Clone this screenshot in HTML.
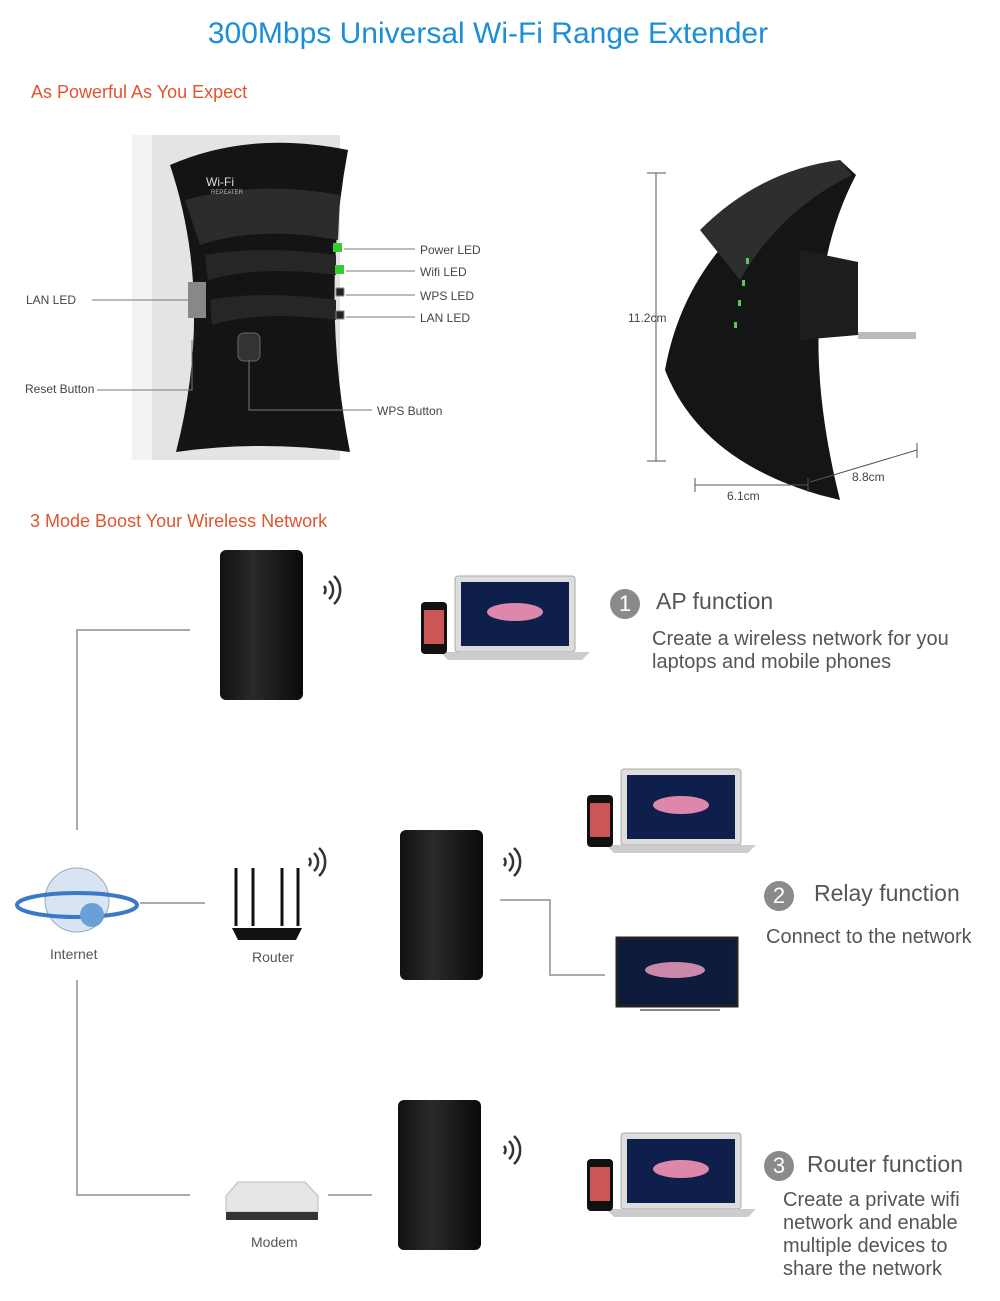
<!DOCTYPE html>
<html><head><meta charset="utf-8"><style>
body{margin:0;background:#fff;}
#c{position:relative;width:1000px;height:1301px;overflow:hidden;font-family:"Liberation Sans",sans-serif;}
.a{position:absolute;white-space:nowrap;}
.s{font-size:12px;color:#444;}
.g{color:#555;}
.dev{position:absolute;background:linear-gradient(90deg,#111,#2a2a2a 40%,#0a0a0a);border-radius:6px;}
.num{position:absolute;width:30px;height:30px;border-radius:50%;background:#8a8a8a;color:#fff;font-size:22px;text-align:center;line-height:30px;}
</style></head><body><div id="c">
<div class="a" style="left:0;width:976px;text-align:center;top:17px;font-size:30px;color:#1a8fd8;">300Mbps Universal Wi-Fi Range Extender</div>
<div class="a" style="left:31px;top:82px;font-size:18px;color:#e0542e;">As Powerful As You Expect</div>
<div class="a" style="left:30px;top:511px;font-size:18px;color:#e0542e;">3 Mode Boost Your Wireless Network</div>

<svg class="a" style="left:0;top:0" width="1000" height="1301">
<rect x="132" y="135" width="208" height="325" fill="#e6e3e3"/>
<rect x="132" y="135" width="20" height="325" fill="#f4f2f2"/>
<path d="M170 165 Q250 130 348 150 Q320 300 350 452 Q260 440 176 452 Q215 300 170 165Z" fill="#141414"/>
<path d="M185 200 Q260 180 340 195 L338 240 Q260 225 200 245Z" fill="#2c2c2c"/>
<path d="M205 255 Q260 245 336 255 L336 275 Q260 265 208 280Z" fill="#262626"/>
<path d="M210 300 Q260 290 336 300 L336 320 Q260 310 212 325Z" fill="#262626"/>
<rect x="188" y="282" width="18" height="36" fill="#888"/>
<rect x="333" y="243" width="9" height="9" fill="#3c3"/><rect x="335" y="265" width="9" height="9" fill="#3c3"/>
<rect x="336" y="288" width="8" height="8" fill="#222" stroke="#888"/><rect x="336" y="311" width="8" height="8" fill="#222" stroke="#888"/>
<rect x="238" y="333" width="22" height="28" rx="6" fill="#333" stroke="#666"/>
<text x="206" y="186" fill="#ddd" font-size="12" font-family="Liberation Sans">Wi-Fi</text>
<text x="211" y="194" fill="#bbb" font-size="6" font-family="Liberation Sans">REPEATER</text>
<g stroke="#777" fill="none">
<path d="M344 249H415M346 271H415M346 295H415M346 317H415"/>
<path d="M92 300H188M97 390H192V340"/>
<path d="M249 360V410H372"/>
</g>
<path d="M665 370 Q690 230 840 160 L856 175 Q790 300 840 500 L820 495 Q700 460 665 370Z" fill="#151515"/>
<path d="M700 230 Q760 170 840 160 L852 175 Q780 210 740 280Z" fill="#2e2e2e"/>
<path d="M800 250 L858 262 L858 335 L800 340Z" fill="#1e1e1e"/>
<rect x="858" y="332" width="58" height="7" fill="#bbb"/>
<g fill="#5c5"><rect x="746" y="258" width="3" height="6"/><rect x="742" y="280" width="3" height="6"/><rect x="738" y="300" width="3" height="6"/><rect x="734" y="322" width="3" height="6"/></g>
<g stroke="#555" fill="none">
<path d="M647 173H666M656 173V461M647 461H666"/>
<path d="M695 478V492M695 485H808M808 478V492"/>
<path d="M810 482L917 450M917 443V458"/>
</g>
<g stroke="#aaa" stroke-width="2" fill="none">
<path d="M190 630H77V830"/>
<path d="M77 980V1195H190"/>
<path d="M140 903H205"/>
<path d="M328 1195H372"/>
<path d="M500 900H550V975H605"/>
</g>
<g stroke="#333" stroke-width="2.5" fill="none">
<g transform="translate(320,590)"><path d="M4 -4a6 6 0 0 1 0 8M9 -9a12 12 0 0 1 0 18M14 -14a19 19 0 0 1 0 28"/></g>
<g transform="translate(305,862)"><path d="M4 -4a6 6 0 0 1 0 8M9 -9a12 12 0 0 1 0 18M14 -14a19 19 0 0 1 0 28"/></g>
<g transform="translate(500,862)"><path d="M4 -4a6 6 0 0 1 0 8M9 -9a12 12 0 0 1 0 18M14 -14a19 19 0 0 1 0 28"/></g>
<g transform="translate(500,1150)"><path d="M4 -4a6 6 0 0 1 0 8M9 -9a12 12 0 0 1 0 18M14 -14a19 19 0 0 1 0 28"/></g>
</g>
<g id="lap">
<rect x="455" y="576" width="120" height="76" rx="3" fill="#ddd" stroke="#aaa"/>
<rect x="461" y="582" width="108" height="64" fill="#0d1f4a"/>
<ellipse cx="515" cy="612" rx="28" ry="9" fill="#d8a"/>
<path d="M440 652H590L582 660H448Z" fill="#ccc"/>
<rect x="421" y="602" width="26" height="52" rx="4" fill="#111"/>
<rect x="424" y="610" width="20" height="34" fill="#c55"/>
</g>
<use href="#lap" x="166" y="193"/>
<use href="#lap" x="166" y="557"/>
<rect x="617" y="938" width="120" height="68" fill="#0d1b3c" stroke="#222" stroke-width="3"/>
<ellipse cx="675" cy="970" rx="30" ry="8" fill="#c8a"/>
<path d="M640 1010H720" stroke="#888" stroke-width="2"/>
<circle cx="77" cy="900" r="32" fill="#d8e4f2" stroke="#9ab"/>
<ellipse cx="77" cy="905" rx="60" ry="12" fill="none" stroke="#3a78c8" stroke-width="4"/>
<circle cx="92" cy="915" r="12" fill="#6a9fd8"/>
<path d="M232 928H302L296 940H238Z" fill="#111"/>
<g stroke="#111" stroke-width="3"><path d="M236 926V868M253 926V868M282 926V868M298 926V868"/></g>
<path d="M226 1196L238 1182H305L318 1196V1212H226Z" fill="#e6e6e6" stroke="#bbb"/>
<rect x="226" y="1212" width="92" height="8" fill="#333"/>
</svg>

<div class="dev" style="left:220px;top:550px;width:83px;height:150px;"></div>
<div class="dev" style="left:400px;top:830px;width:83px;height:150px;"></div>
<div class="dev" style="left:398px;top:1100px;width:83px;height:150px;"></div>

<div class="a s" style="left:26px;top:293px;">LAN LED</div>
<div class="a s" style="left:25px;top:382px;">Reset Button</div>
<div class="a s" style="left:420px;top:243px;">Power LED</div>
<div class="a s" style="left:420px;top:265px;">Wifi LED</div>
<div class="a s" style="left:420px;top:289px;">WPS LED</div>
<div class="a s" style="left:420px;top:311px;">LAN LED</div>
<div class="a s" style="left:377px;top:404px;">WPS Button</div>
<div class="a s" style="left:628px;top:311px;">11.2cm</div>
<div class="a s" style="left:727px;top:489px;">6.1cm</div>
<div class="a s" style="left:852px;top:470px;">8.8cm</div>

<div class="a g" style="left:50px;top:946px;font-size:14px;">Internet</div>
<div class="a g" style="left:252px;top:949px;font-size:14px;">Router</div>
<div class="a g" style="left:251px;top:1234px;font-size:14px;">Modem</div>

<div class="num" style="left:610px;top:589px;">1</div>
<div class="a g" style="left:656px;top:588px;font-size:23px;">AP function</div>
<div class="a g" style="left:652px;top:628px;font-size:20px;line-height:23px;">Create a wireless network for you<br>laptops and mobile phones</div>
<div class="num" style="left:764px;top:881px;">2</div>
<div class="a g" style="left:814px;top:880px;font-size:23px;">Relay function</div>
<div class="a g" style="left:766px;top:926px;font-size:20px;">Connect to the network</div>
<div class="num" style="left:764px;top:1151px;">3</div>
<div class="a g" style="left:807px;top:1151px;font-size:23px;">Router function</div>
<div class="a g" style="left:783px;top:1189px;font-size:20px;line-height:23px;">Create a private wifi<br>network and enable<br>multiple devices to<br>share the network</div>
</div></body></html>
